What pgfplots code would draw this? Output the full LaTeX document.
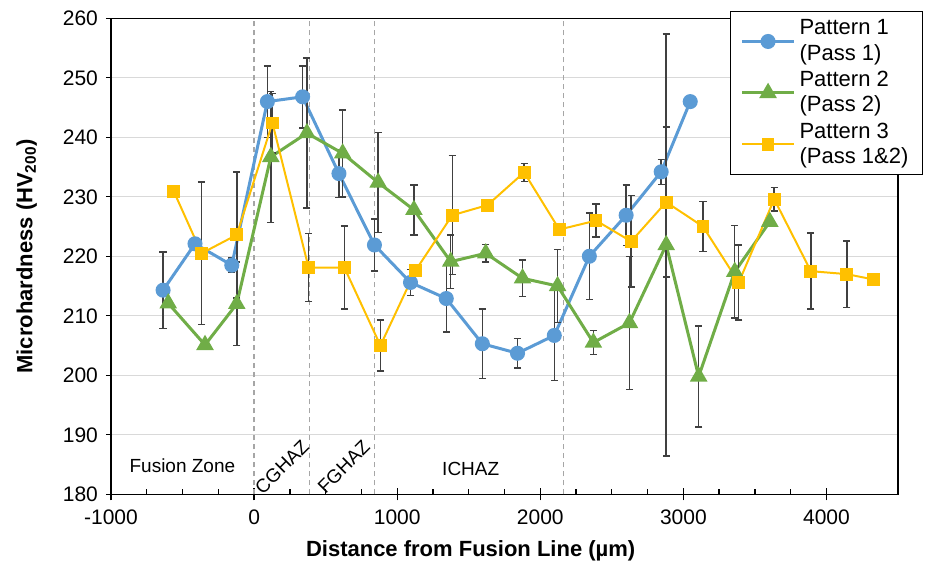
\documentclass[border=0pt]{standalone}
\usepackage{fontspec}
\setmainfont{Liberation Sans}
\usepackage{pgfplots}
\pgfplotsset{compat=1.18}
\usepackage{pgfplotstable}
\definecolor{pblue}{HTML}{5B9BD5}
\definecolor{pgreen}{HTML}{70AD47}
\definecolor{pyellow}{HTML}{FFC000}
\definecolor{errgray}{HTML}{404040}
\definecolor{gridgray}{HTML}{D9D9D9}
\definecolor{dashgray}{HTML}{A6A6A6}

\pgfplotstableread{
x y e
-636 214.3 6.4
-413 222.1 0
-156 218.5 1.2
93 246.0 6
339 246.8 5.2
593 233.9 4
841 221.9 4.4
1093 215.6 2.2
1343 212.9 5.6
1595 205.3 5.8
1841 203.7 2.5
2098 206.7 7.6
2343 220.0 7.3
2600 226.9 5.1
2845 234.2 2.1
3048 246.0 0
}\pone

\pgfplotstableread{
x y e
-600 212.1 0
-343 205.1 0
-121 212.0 7
117 236.7 11
369 240.7 12.6
619 237.3 7.3
867 232.4 8.4
1117 227.8 4.2
1374 219.1 4.5
1619 220.5 1.5
1876 216.3 3.1
2121 215.0 6.1
2371 205.5 2
2623 208.8 11.2
2880 221.9 35.5
3107 199.8 8.5
3359 217.4 7.8
3604 225.8 0
}\ptwo

\pgfplotstableread{
x y e
-561 230.9 0
-367 220.5 12
-121 223.6 10.6
128 242.4 5
381 218.1 5.7
631 218.1 7
883 205.0 4.3
1128 217.6 0
1385 226.9 10
1631 228.6 0
1887 234.1 1.5
2133 224.5 0
2390 226.0 2.8
2635 222.5 7.7
2880 229.1 12.6
3137 225.0 4.2
3387 215.6 6.3
3635 229.6 2
3891 217.5 6.4
4142 217.0 5.6
4329 216.1 0
}\pthree

\begin{document}
\begin{tikzpicture}
\begin{axis}[
  name=ax,
  scale only axis, width=393.5pt, height=238pt,
  xmin=-1000, xmax=4500, ymin=180, ymax=260,
  xtick={-1000,0,1000,2000,3000,4000},
  minor x tick num=3,
  ytick={180,190,200,210,220,230,240,250,260},
  ymajorgrids, grid style={gridgray, line width=0.6pt},
  axis line style={black, line width=0.65pt},
  xtick pos=bottom, ytick pos=left,
  tick align=center,
  major tick length=6pt, minor tick length=2.5pt,
  tick style={black, line width=0.65pt},
  every minor x tick/.append style={yshift=1.25pt},
  every major y tick/.append style={xshift=-3pt, dash pattern=on 0pt off 3.5pt on 2.5pt off 10pt},
  /pgf/number format/assume math mode=true,
  /pgf/number format/1000 sep={},
  tick label style={font=\fontsize{10.5}{12}\selectfont, black},
  xticklabel style={yshift=-1pt},
  xlabel={Distance from Fusion Line (µm)},
  ylabel={Microhardness (HV\textsubscript{200})},
  xlabel style={font=\fontsize{11}{13}\selectfont\bfseries, at={(axis description cs:0.457,-0.119)}, anchor=center},
  ylabel style={font=\fontsize{11}{13}\selectfont\bfseries, at={(axis description cs:-0.107,0.5)}, anchor=center},
  clip=false,
  legend cell align=left,
  legend style={at={(1.0318,1.0150)}, anchor=north east, draw=black, line width=0.65pt,
    font=\fontsize{11}{12.6}\selectfont, cells={anchor=west, align=left},
    inner xsep=5pt, inner ysep=2pt, row sep=0pt},
  legend image code/.code={%
    \draw[mark repeat=2,mark phase=2,#1] plot coordinates {(0pt,0pt) (13pt,0pt) (26pt,0pt)};},
]
% region dashed lines
\addplot[dashgray, line width=0.6pt, dash pattern=on 2.5pt off 2pt, forget plot] coordinates {(0,180) (0,259.5)};
\addplot[dashgray, line width=0.6pt, dash pattern=on 2.5pt off 2pt, forget plot] coordinates {(390,180) (390,259.5)};
\addplot[dashgray, line width=0.6pt, dash pattern=on 2.5pt off 2pt, forget plot] coordinates {(840,180) (840,259.5)};
\addplot[dashgray, line width=0.6pt, dash pattern=on 2.5pt off 2pt, forget plot] coordinates {(2165,180) (2165,259.5)};

% Pattern 1
\addplot[only marks, mark=none, forget plot,
  error bars/.cd, y dir=both, y explicit,
  error bar style={errgray, line width=0.75pt},
  error mark options={rotate=90, mark size=1.8pt, errgray, line width=0.75pt}]
  table[x=x, y=y, y error=e, restrict expr to domain={\thisrow{e}}{0.01:100}] {\pone};
\addplot[pblue, line width=1.5pt, mark=*, mark size=3pt, mark options={solid, fill=pblue, draw=pblue}]
  table[x=x, y=y] {\pone};
\addlegendentry{Pattern 1\\(Pass 1)}

% Pattern 2
\addplot[only marks, mark=none, forget plot,
  error bars/.cd, y dir=both, y explicit,
  error bar style={errgray, line width=0.75pt},
  error mark options={rotate=90, mark size=1.8pt, errgray, line width=0.75pt}]
  table[x=x, y=y, y error=e, restrict expr to domain={\thisrow{e}}{0.01:100}] {\ptwo};
\addplot[pgreen, line width=1.5pt, mark=triangle*, mark size=3.6pt, mark options={solid, fill=pgreen, draw=pgreen}]
  table[x=x, y=y] {\ptwo};
\addlegendentry{Pattern 2\\(Pass 2)}

% Pattern 3
\addplot[only marks, mark=none, forget plot,
  error bars/.cd, y dir=both, y explicit,
  error bar style={errgray, line width=0.75pt},
  error mark options={rotate=90, mark size=1.8pt, errgray, line width=0.75pt}]
  table[x=x, y=y, y error=e, restrict expr to domain={\thisrow{e}}{0.01:100}] {\pthree};
\addplot[pyellow, line width=1pt, mark=square*, mark size=2.7pt, mark options={solid, fill=pyellow, draw=pyellow}]
  table[x=x, y=y] {\pthree};
\addlegendentry{Pattern 3\\(Pass 1\&2)}

% region labels
\node[font=\fontsize{9.5}{11}\selectfont] at (axis cs:-501,184.8) {Fusion Zone};
\node[font=\fontsize{9.5}{11}\selectfont, rotate=45] at (axis cs:194,184.6) {CGHAZ};
\node[font=\fontsize{9.5}{11}\selectfont, rotate=45] at (axis cs:626,184.6) {FGHAZ};
\node[font=\fontsize{9.5}{11}\selectfont] at (axis cs:1514,184.3) {ICHAZ};
\end{axis}
\path[use as bounding box] ([xshift=-55.5pt,yshift=-38.35pt]ax.south west) rectangle ([xshift=13.5pt,yshift=9.15pt]ax.north east);
\end{tikzpicture}
\end{document}
